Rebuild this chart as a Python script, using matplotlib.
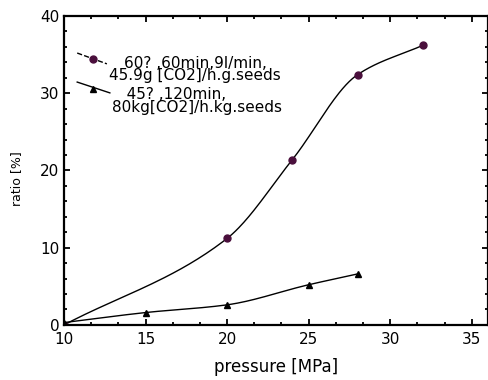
import matplotlib
matplotlib.use('Agg')
import matplotlib.pyplot as plt
import numpy as np
from matplotlib.ticker import MultipleLocator

# Data
p_60 = np.array([10, 20, 24, 28, 32])
r_60 = np.array([0.0, 11.2, 21.4, 32.4, 36.2])

p_45 = np.array([10, 15, 20, 25, 28])
r_45 = np.array([0.3, 1.6, 2.6, 5.2, 6.6])

label_60 = '60? ,60min,9l/min,\n45.9g [CO2]/h.g.seeds'
label_45 = '   45? ,120min,\n80kg[CO2]/h.kg.seeds'

color_60 = '#4a0f3c'


def smooth_line(x, y, n=40):
    # monotone cubic (pchip-like) curve through the measured points
    x = np.asarray(x, float)
    y = np.asarray(y, float)
    h = np.diff(x)
    d = np.diff(y) / h
    m = np.empty_like(y)
    m[0], m[-1] = d[0], d[-1]
    for i in range(1, len(x) - 1):
        w1 = 2 * h[i] + h[i - 1]
        w2 = h[i] + 2 * h[i - 1]
        m[i] = (w1 + w2) / (w1 / d[i - 1] + w2 / d[i])
    xs, ys = [], []
    t = np.linspace(0, 1, n)
    h00 = 2 * t**3 - 3 * t**2 + 1
    h10 = t**3 - 2 * t**2 + t
    h01 = -2 * t**3 + 3 * t**2
    h11 = t**3 - t**2
    for i in range(len(x) - 1):
        xs.append(x[i] + t * h[i])
        ys.append(h00 * y[i] + h10 * h[i] * m[i] + h01 * y[i + 1] + h11 * h[i] * m[i + 1])
    return np.concatenate(xs), np.concatenate(ys)


fig = plt.figure(figsize=(4.89, 3.80), dpi=100)
ax = fig.add_axes([0.131, 0.145, 0.867, 0.813])

xs, ys = smooth_line(p_60, r_60)
ax.plot(xs, ys, color='black', lw=1)
ax.plot(p_60, r_60, 'o', color=color_60, ms=5)

xs, ys = smooth_line(p_45, r_45)
ax.plot(xs, ys, color='black', lw=1)
ax.plot(p_45, r_45, '^', color='black', ms=5)

ax.set_xlim(10, 36)
ax.set_ylim(0, 40)
ax.xaxis.set_major_locator(MultipleLocator(5))
ax.xaxis.set_minor_locator(MultipleLocator(5 / 3))
ax.yaxis.set_major_locator(MultipleLocator(10))
ax.yaxis.set_minor_locator(MultipleLocator(2))
ax.tick_params(which='both', direction='in', top=True, right=True, width=1.3, labelsize=11)
ax.tick_params(which='major', length=4)
ax.tick_params(which='minor', length=2.5)
ax.tick_params(axis='x', pad=5)
for s in ax.spines.values():
    s.set_linewidth(1.6)

ax.set_xlabel('pressure [MPa]', fontsize=12, labelpad=8)
ax.set_ylabel('ratio [%]', fontsize=9)
ax.yaxis.set_label_coords(-0.097, 0.472)

# legend drawn by hand (slanted handles as in the original)
ax.plot([0.031, 0.101], [0.880, 0.845], transform=ax.transAxes, color='black', lw=1, ls='--')
ax.plot([0.068], [0.861], 'o', transform=ax.transAxes, color=color_60, ms=5)
ax.plot([0.031, 0.108], [0.786, 0.751], transform=ax.transAxes, color='black', lw=1)
ax.plot([0.068], [0.764], '^', transform=ax.transAxes, color='black', ms=5)

ax.text(0.309, 0.826, label_60, transform=ax.transAxes, fontsize=11,
        ha='center', va='center', multialignment='center', linespacing=0.77)
ax.text(0.113, 0.725, label_45, transform=ax.transAxes, fontsize=11,
        ha='left', va='center', linespacing=0.77)

fig.savefig('out.png', dpi=100)
